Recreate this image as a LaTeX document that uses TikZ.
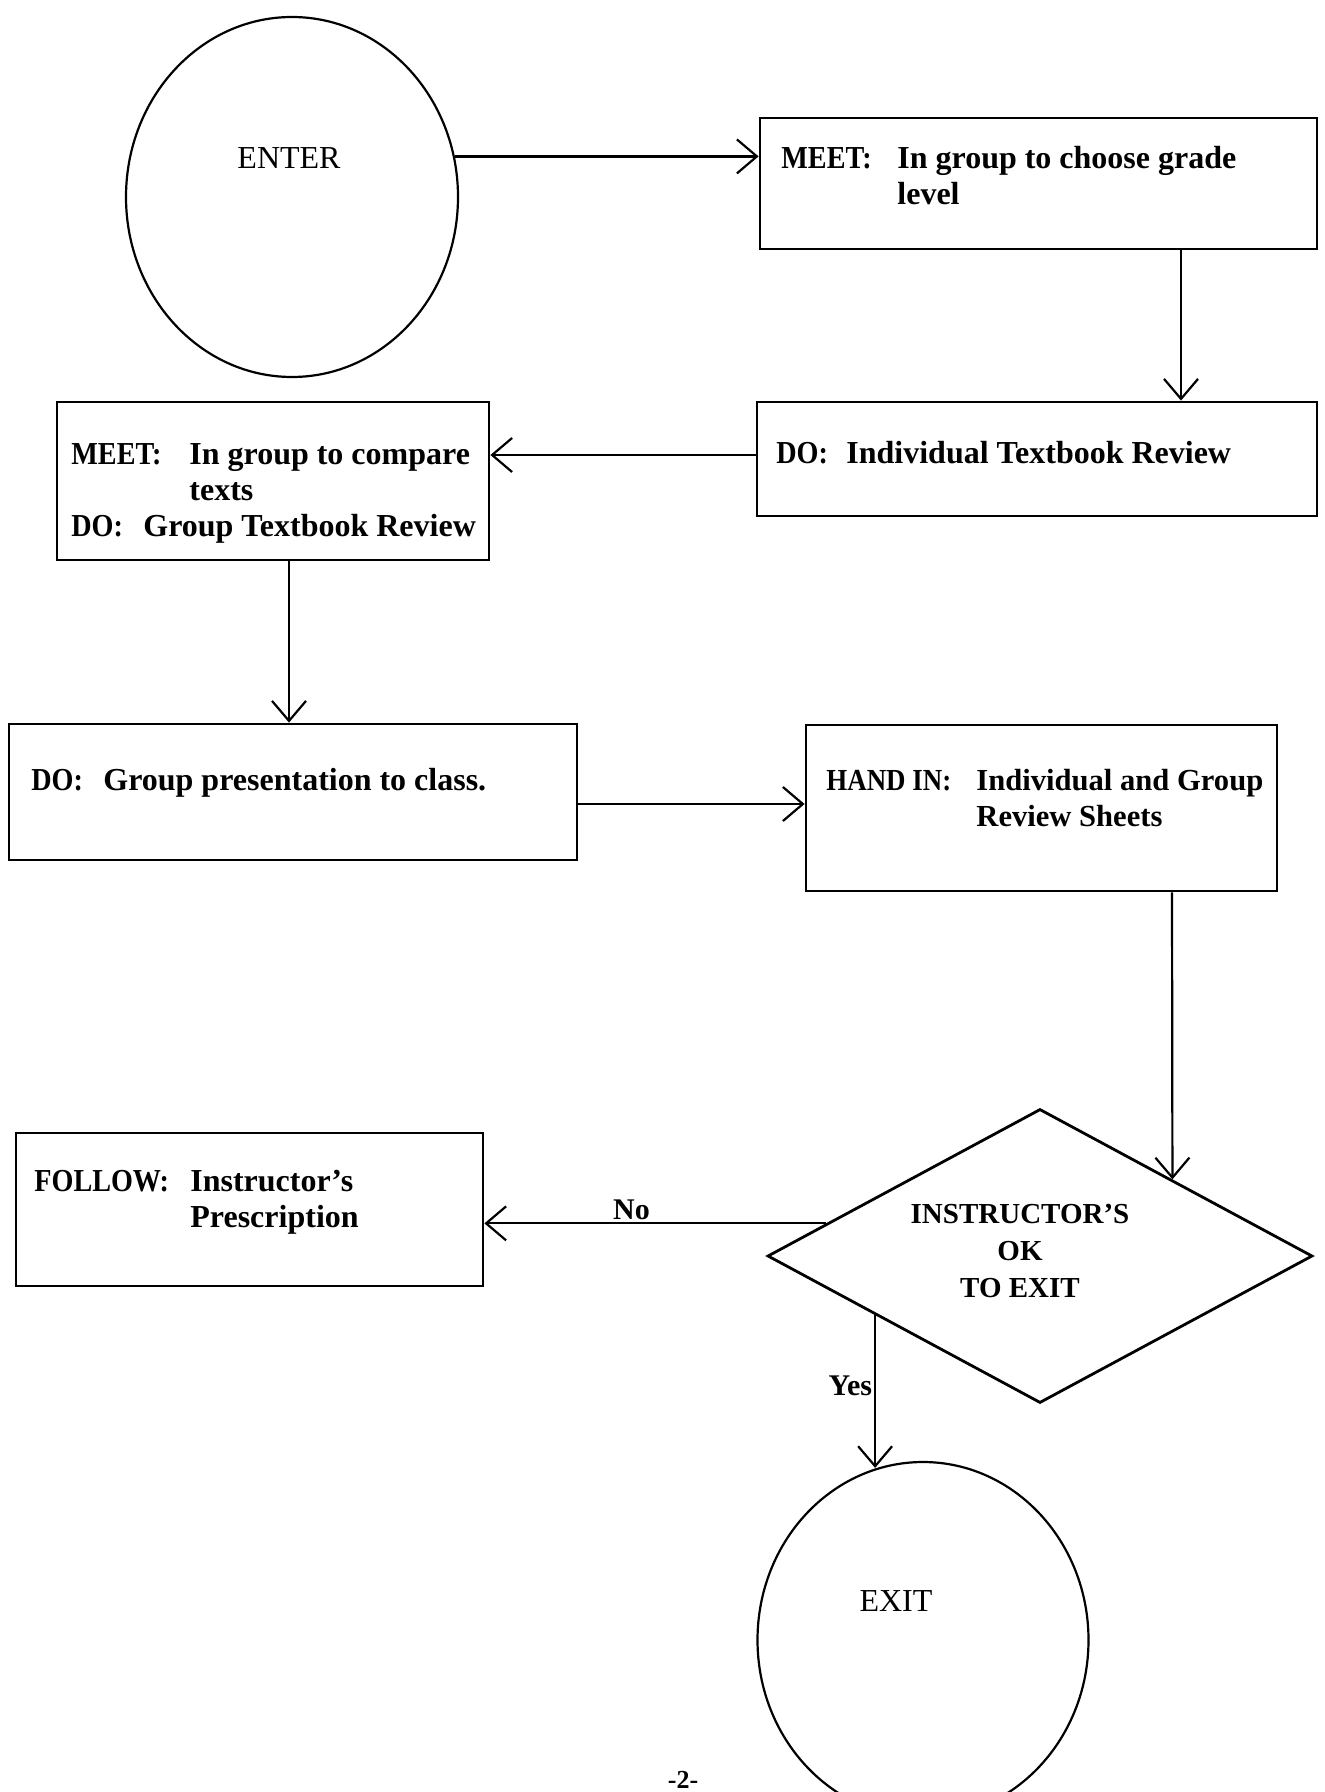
\documentclass[tikz,border=0pt]{standalone}
\usepackage{fontspec}
\usepackage{graphicx}
\setmainfont{Liberation Serif}
\usetikzlibrary{arrows.meta,calc,shapes.geometric}
\newcommand{\capl}[2]{\makebox[#1][l]{\scalebox{0.88}[1]{#2}}}
\begin{document}
\begin{tikzpicture}[x=0.5pt,y=-0.5pt,
  box/.style={draw, line width=1.4pt, rectangle, inner sep=0pt},
  oval/.style={draw, line width=1.1pt, ellipse, inner sep=0pt},
  txt/.style={anchor=base west, inner sep=0pt, align=left, font=\fontsize{16}{18}\selectfont\bfseries},
  ctxt/.style={inner sep=0pt, align=center, font=\fontsize{16}{18}\selectfont},
  lbl/.style={inner sep=1pt, font=\fontsize{15}{17}\selectfont\bfseries},
  arr/.style={line width=1.1pt, -{Straight Barb[length=10pt,width=17pt]}}
]
\fill[white] (0,0) rectangle (1324,1792);
\clip (0,0) rectangle (1324,1792);

% shapes
\node[oval, minimum width=166pt, minimum height=180pt] (enter) at (292,197) {};
\node[oval, minimum width=165.5pt, minimum height=178pt] (exit) at (923,1640) {};
\node[box, minimum width=278.5pt, minimum height=65.5pt] (b1) at (1038.5,183.5) {};
\node[box, minimum width=280pt, minimum height=57pt] (b2) at (1037,459) {};
\node[box, minimum width=216pt, minimum height=79pt] (b3) at (273,481) {};
\node[box, minimum width=284pt, minimum height=68pt] (b4) at (293,792) {};
\node[box, minimum width=235.5pt, minimum height=83pt] (b5) at (1041.5,808) {};
\node[box, minimum width=233.5pt, minimum height=76.5pt] (b6) at (249.5,1209.5) {};
\node[draw, diamond, line width=1.4pt, inner sep=0pt, minimum width=272.5pt, minimum height=147pt] (dia) at (1040,1256) {};

% texts (multi-line nodes: base anchor is the last line's baseline)
\node[ctxt] (tenter) at (289,158) {ENTER};
\node[ctxt] (texit) at (896,1601) {EXIT};
\node[ctxt, font=\fontsize{14.5}{18.5}\selectfont\bfseries] (tdia) at (1020,1251) {INSTRUCTOR'S\\OK\\TO EXIT};
\node[txt] (t1) at (781,205) {\capl{58pt}{MEET:}In group to choose grade\\\hspace*{58pt}level};
\node[txt] (t2) at (776,463) {\capl{35pt}{DO:}Individual Textbook Review};
\node[txt] (t3) at (71,536) {\capl{59pt}{MEET:}In group to compare\\\hspace*{59pt}texts\\\capl{36pt}{DO:}Group Textbook Review};
\node[txt] (t4) at (31,790) {\capl{36pt}{DO:}Group presentation to class.};
\node[txt, font=\fontsize{15.3}{18}\selectfont\bfseries] (t5) at (826,826) {\capl{75pt}{HAND IN:}Individual and Group\\\hspace*{75pt}Review Sheets};
\node[txt] (t6) at (34,1227) {\capl{78pt}{FOLLOW:}Instructor's\\\hspace*{78pt}Prescription};
\node[lbl, font=\fontsize{13}{15}\selectfont\bfseries] (page) at (683,1780) {-2-};

% connectors
\coordinate (x1) at (1181,0);
\coordinate (y2) at (0,455);
\coordinate (x3) at (289,0);
\coordinate (y4) at (0,804);
\coordinate (x5) at (1172,0);
\coordinate (noS) at ($(dia.west)!0.22!(dia.north)$);
\coordinate (yesS) at ($(dia.west)!0.398!(dia.south)$);

\draw[arr] (enter.14) -- (enter.14 -| b1.west);
\draw[arr] (b1.south -| x1) -- (b2.north -| x1);
\draw[arr] (b2.west |- y2) -- (b3.east |- y2);
\draw[arr] (b3.south -| x3) -- (b4.north -| x3);
\draw[arr] (b4.east |- y4) -- (b5.west |- y4);
\draw[arr] (b5.south -| x5) -- ($(dia.north)!0.4835!(dia.east)$);
\draw[arr] (noS) -- node[lbl, above, pos=0.57] {No} (noS -| b6.east);
\draw[arr] (yesS) -- node[lbl, left, pos=0.46] {Yes} (yesS |- exit.105);
\end{tikzpicture}
\end{document}
